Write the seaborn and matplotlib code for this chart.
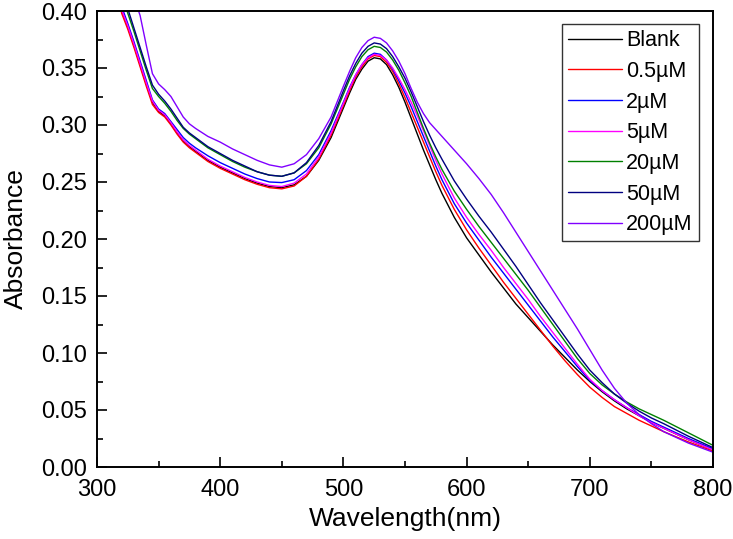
import numpy as np
import pandas as pd
import matplotlib
matplotlib.use("Agg")
import matplotlib.pyplot as plt
import seaborn as sns
from matplotlib.ticker import MultipleLocator, FormatStrFormatter

wavelength = [315, 320, 325, 330, 335, 340, 345, 350, 355, 360, 365, 370, 375, 380, 390,
              400, 410, 420, 430, 440, 450, 460, 470, 480, 490, 500, 505, 510, 515, 520,
              525, 530, 535, 540, 545, 550, 555, 560, 565, 570, 575, 580, 590, 600, 610,
              620, 630, 640, 650, 660, 670, 680, 690, 700, 710, 720, 730, 740, 750, 760,
              780, 800]

blank = [.425, .400, .386, .370, .353, .336, .320, .312, .308, .301, .293, .286, .281, .277, .269,
         .263, .258, .253, .249, .246, .245, .2475, .255, .269, .289, .315, .328, .340, .349, .356,
         .359, .358, .353, .344, .333, .320, .306, .292, .278, .265, .252, .240, .219, .201, .186,
         .171, .157, .143, .131, .119, .107, .096, .085, .075, .066, .058, .051, .045, .039, .034,
         .024, .015]
c05 = [.425, .398, .384, .368, .351, .334, .318, .311, .307, .300, .292, .285, .280, .276, .268,
       .262, .257, .252, .248, .245, .244, .2465, .255, .270, .291, .317, .330, .342, .351, .358,
       .361, .360, .355, .347, .336, .324, .311, .298, .285, .272, .259, .247, .226, .208, .192,
       .177, .162, .148, .134, .120, .106, .093, .081, .070, .061, .053, .047, .041, .036, .031,
       .022, .014]
c2 = [.430, .404, .389, .373, .356, .339, .322, .314, .310, .303, .296, .289, .284, .280, .273,
      .267, .262, .257, .253, .250, .2495, .252, .260, .274, .295, .320, .333, .344, .353, .360,
      .363, .362, .357, .349, .339, .328, .316, .303, .290, .277, .264, .252, .231, .214, .199,
      .184, .170, .156, .142, .128, .114, .101, .088, .076, .067, .059, .052, .046, .040, .035,
      .025, .016]
c5 = [.428, .401, .387, .371, .354, .337, .321, .313, .309, .302, .294, .287, .282, .278, .270,
      .264, .259, .254, .250, .247, .246, .249, .257, .272, .293, .319, .332, .344, .353, .359,
      .362, .361, .357, .350, .341, .331, .320, .308, .295, .282, .269, .257, .236, .219, .204,
      .190, .175, .161, .147, .132, .118, .104, .090, .077, .067, .059, .052, .045, .039, .034,
      .024, .015]
c20 = [.440, .414, .398, .382, .365, .348, .332, .325, .319, .312, .304, .297, .292, .288, .280,
       .274, .268, .263, .259, .256, .255, .258, .266, .280, .301, .327, .340, .351, .360, .366,
       .369, .368, .364, .357, .348, .337, .325, .311, .297, .284, .272, .261, .242, .226, .211,
       .197, .183, .169, .155, .140, .125, .110, .095, .082, .072, .064, .057, .051, .046, .041,
       .030, .019]
c50 = [.445, .419, .402, .385, .368, .351, .335, .327, .321, .314, .306, .298, .293, .289, .281,
       .275, .269, .264, .259, .256, .255, .258, .267, .282, .303, .330, .343, .354, .363, .369,
       .372, .371, .367, .360, .351, .341, .329, .316, .303, .291, .280, .270, .251, .235, .220,
       .206, .191, .176, .160, .144, .129, .114, .099, .085, .074, .064, .056, .049, .043, .038,
       .027, .017]
c200 = [.470, .445, .428, .412, .396, .370, .345, .336, .331, .325, .316, .307, .301, .297, .290,
        .285, .279, .274, .269, .265, .263, .266, .274, .288, .307, .334, .347, .359, .368, .374,
        .377, .376, .372, .365, .356, .345, .332, .320, .310, .302, .296, .290, .278, .266, .253,
        .239, .223, .206, .189, .172, .155, .138, .121, .103, .085, .069, .056, .046, .038, .031,
        .021, .013]

labels = ["Blank", "0.5\u00b5M", "2\u00b5M", "5\u00b5M", "20\u00b5M", "50\u00b5M", "200\u00b5M"]
series = [blank, c05, c2, c5, c20, c50, c200]
colors = ["#000000", "#FF0000", "#0000FF", "#FF00FF", "#008000", "#000080", "#8000FF"]

df = pd.concat([pd.DataFrame({"Wavelength": wavelength, "Absorbance": s, "Sample": lab})
                for lab, s in zip(labels, series)], ignore_index=True)

sns.set_style("ticks")
plt.rcParams["font.family"] = ["Liberation Sans", "DejaVu Sans"]
plt.rcParams["text.color"] = "black"
plt.rcParams["axes.labelcolor"] = "black"
plt.rcParams["xtick.color"] = "black"
plt.rcParams["ytick.color"] = "black"

fig = plt.figure(figsize=(7.33, 5.39), dpi=100)
ax = fig.add_axes([97/733, 1-467/539, (713-97)/733, (467-11)/539])

sns.lineplot(data=df, x="Wavelength", y="Absorbance", hue="Sample", hue_order=labels,
             palette=dict(zip(labels, colors)), estimator=None, sort=False,
             linewidth=1.0, ax=ax)

ax.set_xlim(300, 800)
ax.set_ylim(0, 0.40)
ax.xaxis.set_major_locator(MultipleLocator(100))
ax.xaxis.set_minor_locator(MultipleLocator(50))
ax.yaxis.set_major_locator(MultipleLocator(0.05))
ax.yaxis.set_minor_locator(MultipleLocator(0.025))
ax.yaxis.set_major_formatter(FormatStrFormatter("%.2f"))
ax.tick_params(which="major", direction="in", length=7, width=1.2, labelsize=17,
               top=False, right=False)
ax.tick_params(which="minor", direction="in", length=4, width=1.2, top=False, right=False)
ax.tick_params(axis="x", which="major", pad=9)
ax.tick_params(axis="y", which="major", pad=7)
for sp in ax.spines.values():
    sp.set_visible(True)
    sp.set_linewidth(1.4)
    sp.set_color("black")

ax.set_xlabel("Wavelength(nm)", fontsize=19, labelpad=4)
ax.set_ylabel("Absorbance", fontsize=19, labelpad=10)

leg = ax.legend(loc="upper right", bbox_to_anchor=(0.9765, 0.971), fontsize=15.5,
                frameon=True, fancybox=False, framealpha=1, edgecolor="#333333",
                handlelength=2.5, handletextpad=0.2, labelspacing=0.45, borderpad=0.28,
                borderaxespad=0)
leg.get_frame().set_linewidth(1.0)

fig.savefig("out.png", dpi=100)
